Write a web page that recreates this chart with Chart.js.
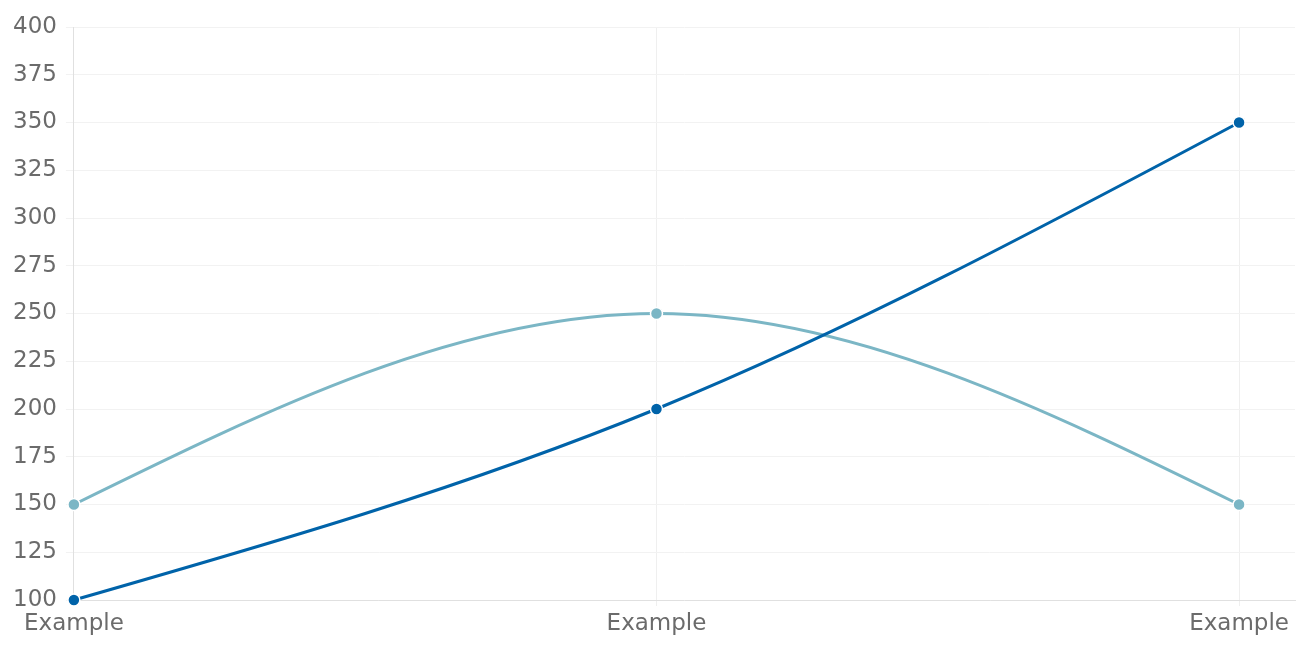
<!DOCTYPE html>
<html>
<head>
<meta charset="utf-8">
<script src="https://cdn.jsdelivr.net/npm/chart.js@4"></script>
<style>
html,body{margin:0;padding:0;background:#fff;overflow:hidden;}
#wrap{width:1296px;height:648px;position:relative;}
canvas{display:block;}
</style>
</head>
<body>
<div id="wrap"><canvas id="c"></canvas></div>
<script>
const categories = ["Example", "Example", "Example"];
const seriesDark = [100, 200, 350];
const seriesLight = [150, 250, 150];
const yTicks = [100, 125, 150, 175, 200, 225, 250, 275, 300, 325, 350, 375, 400];

const toPoints = arr => arr.map((v, i) => ({x: i, y: v}));
const FONT = {family: 'DejaVu Sans', size: 23};

// Natural cubic spline through the points placed by the scales
const naturalSpline = {
  id: 'naturalSpline',
  beforeDatasetDraw(chart, args) {
    const meta = args.meta;
    const line = meta.dataset;
    const pts = meta.data;
    const n = pts.length;
    if (!line || n < 3) return;
    line.updateControlPoints(chart.chartArea, chart.options.indexAxis);
    const ys = pts.map(p => p.y);
    // solve tridiagonal system for second derivatives (unit spacing)
    const M = new Array(n).fill(0);
    const m = n - 2;
    const a = [], b = [], c = [], d = [];
    for (let i = 1; i <= m; i++) {
      a.push(1); b.push(4); c.push(1);
      d.push(6 * (ys[i - 1] - 2 * ys[i] + ys[i + 1]));
    }
    for (let i = 1; i < m; i++) {
      const w = a[i] / b[i - 1];
      b[i] -= w * c[i - 1];
      d[i] -= w * d[i - 1];
    }
    const sol = new Array(m);
    sol[m - 1] = d[m - 1] / b[m - 1];
    for (let i = m - 2; i >= 0; i--) sol[i] = (d[i] - c[i] * sol[i + 1]) / b[i];
    for (let i = 0; i < m; i++) M[i + 1] = sol[i];
    for (let i = 0; i < n - 1; i++) {
      const p0 = pts[i], p1 = pts[i + 1];
      const dy = ys[i + 1] - ys[i];
      const d0 = dy - (2 * M[i] + M[i + 1]) / 6;
      const d1 = dy + (M[i] + 2 * M[i + 1]) / 6;
      const dx = p1.x - p0.x;
      p0.cp2x = p0.x + dx / 3; p0.cp2y = ys[i] + d0 / 3;
      p1.cp1x = p1.x - dx / 3; p1.cp1y = ys[i + 1] - d1 / 3;
    }
    line._path = undefined;
  }
};

new Chart(document.getElementById('c'), {
  type: 'line',
  data: {
    datasets: [
      {
        data: toPoints(seriesDark),
        borderColor: '#0063a9',
        backgroundColor: '#0063a9',
        borderWidth: 3,
        tension: 0.4,
        clip: false,
        pointRadius: 6,
        pointBorderColor: '#ffffff',
        pointBorderWidth: 1.5,
        pointBackgroundColor: '#0063a9'
      },
      {
        data: toPoints(seriesLight),
        borderColor: '#7bb6c5',
        backgroundColor: '#7bb6c5',
        borderWidth: 3,
        tension: 0.4,
        clip: false,
        pointRadius: 6,
        pointBorderColor: '#ffffff',
        pointBorderWidth: 1.5,
        pointBackgroundColor: '#7bb6c5'
      }
    ]
  },
  plugins: [naturalSpline],
  options: {
    responsive: true,
    maintainAspectRatio: false,
    animation: false,
    layout: {autoPadding: false, padding: {top: 27, right: 1, left: 4, bottom: 0}},
    plugins: {legend: {display: false}, tooltip: {enabled: false}},
    scales: {
      x: {
        type: 'linear',
        min: 0,
        max: 2.096,
        afterFit: s => { s.paddingRight = 0; s.paddingLeft = 0; s.height = 48; },
        ticks: {
          stepSize: 1,
          includeBounds: false,
          autoSkip: false,
          maxRotation: 0,
          color: '#6b6b6b',
          font: FONT,
          padding: 4,
          callback: v => (Number.isInteger(v) && categories[v] !== undefined) ? categories[v] : ''
        },
        grid: {color: '#efefef', tickLength: 6, lineWidth: 1},
        border: {color: '#e0e0e0'}
      },
      y: {
        min: 100,
        max: 400,
        afterBuildTicks: s => { s.ticks = yTicks.map(v => ({value: v})); },
        afterFit: s => { s.paddingBottom = 0; },
        ticks: {
          color: '#6b6b6b',
          font: FONT,
          padding: 9
        },
        grid: {color: '#f2f2f2', tickLength: 8, lineWidth: 1},
        border: {color: '#e0e0e0'}
      }
    }
  }
});
</script>
</body>
</html>
